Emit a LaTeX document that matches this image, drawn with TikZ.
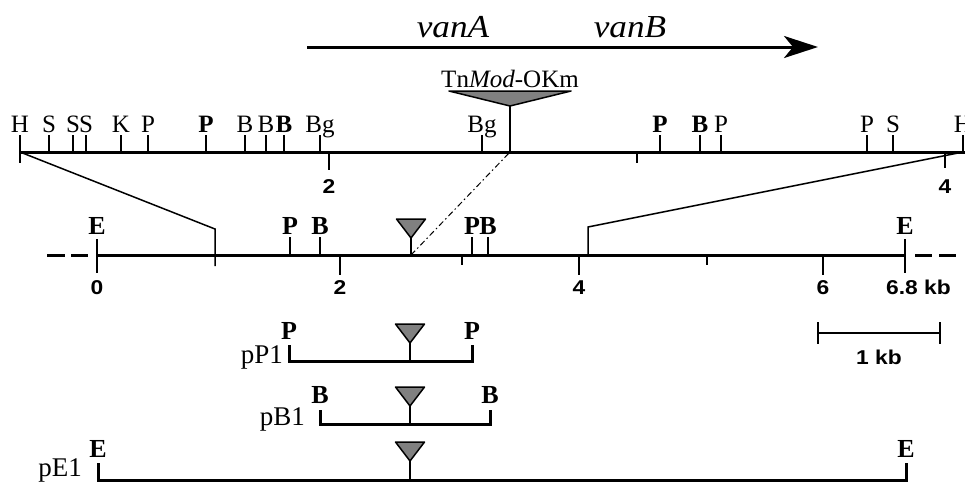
\documentclass[tikz,border=0pt]{standalone}
\usepackage{fontspec}
\setmainfont{Liberation Serif}
\setsansfont{Liberation Sans}
\usetikzlibrary{arrows.meta}

\tikzset{
  mapline/.style={line width=3pt},
  tickln/.style={line width=2pt},
  thinln/.style={line width=1.5pt},
  site/.style={anchor=base, inner sep=0pt, font=\fontsize{25}{25}\selectfont},
  bsite/.style={site, font=\fontsize{26}{26}\selectfont\bfseries},
  num/.style={anchor=base, inner sep=0pt, font=\fontsize{20}{20}\selectfont\sffamily\bfseries},
  clone/.style={anchor=base east, inner sep=0pt, font=\fontsize{27}{27}\selectfont},
  gene/.style={anchor=base, inner sep=0pt, font=\fontsize{32}{32}\selectfont\itshape},
  insfill/.style={fill=gray, draw=black, line width=1.5pt, line join=round},
}
\newcommand{\wide}[1]{\scalebox{1.14}[1]{#1}}
% small insertion marker: triangle on a stem standing on a line at (#1,#2)
\newcommand{\insmark}[3]{%
  \draw[insfill] (#1-14.5,#3) -- (#1+14.5,#3) -- (#1,#3+19) -- cycle;
  \draw[tickln] (#1,#3+19) -- (#1,#2);
}

\begin{document}
\begin{tikzpicture}[x=1pt, y=-1pt]
\useasboundingbox (0,0) rectangle (965,483);

% ---------- transcription arrow ----------
\coordinate (arrS) at (307,47);
\coordinate (arrE) at (818,47);
\draw[line width=3pt, -{Stealth[length=34pt, width=22pt, inset=9pt]}] (arrS) -- (arrE);
\node[gene] (vanA) at (453,37) {\scalebox{1.1}[1]{vanA}};
\node[gene] (vanB) at (630,37) {\scalebox{1.1}[1]{vanB}};

% ---------- upper restriction map ----------
\coordinate (topL) at (20,152);
\coordinate (topR) at (965,152);
\draw[mapline] (topL) -- (topR);
\foreach \x/\l in {20/H,49/S,73/S,86/S,121/K,148/P,245/B,266/B,320/Bg,482/Bg,721/P,867/P,893/S,963/H}{
  \draw[tickln] (\x,135) -- (\x,152);
  \node[site] at (\x,132) {\l};
}
\foreach \x/\l in {206/P,284/B,660/P,700/B}{
  \draw[tickln] (\x,135) -- (\x,152);
  \node[site, font=\fontsize{25}{25}\selectfont\bfseries] at (\x,132) {\l};
}
% scale ticks below the upper map
\draw[tickln] (20,152) -- (20,163);
\draw[tickln] (329,152) -- (329,170);
\draw[thinln] (637,152) -- (637,163);
\draw[tickln] (945,152) -- (945,168);
\node[num] (t2) at (329,193) {\wide{2}};
\node[num] (t4) at (945,193) {\wide{4}};

% TnMod-OKm insertion
\coordinate (tnIns) at (510,152);
\draw[insfill] (449,91) -- (571,91) -- (510,106) -- cycle;
\draw[tickln] (510,106) -- (tnIns);
\node[site] (tn) at (510,87) {Tn\textit{Mod}-OKm};

% ---------- middle map (E fragment, 6.8 kb) ----------
\coordinate (midL) at (97,255);
\coordinate (midR) at (905,255);
\draw[mapline] (midL) -- (midR);
\draw[mapline, dash pattern=on 18pt off 6pt] (47,255) -- (88,255);
\draw[mapline, dash pattern=on 17pt off 7pt] (915,255) -- (956,255);
\draw[tickln] (97,239) -- (97,273);
\draw[tickln] (905,239) -- (905,273);
\node[bsite] (mE1) at (97,234) {E};
\node[bsite] (mE2) at (905,234) {E};
\foreach \x/\l in {290/P,320/B,472/P,488/B}{
  \draw[tickln] (\x,237) -- (\x,255);
  \node[bsite] at (\x,234) {\l};
}
% kb ticks
\foreach \x in {340,579,823}{ \draw[tickln] (\x,255) -- (\x,275); }
\foreach \x in {462,707}{ \draw[thinln] (\x,255) -- (\x,265); }
\node[num] at (97,294) {\wide{0}};
\node[num] at (340,294) {\wide{2}};
\node[num] at (579,294) {\wide{4}};
\node[num] at (823,294) {\wide{6}};
\node[num, anchor=base west] at (886,294) {\wide{6.8 kb}};

% insertion on the middle map
\coordinate (midIns) at (411,255);
\insmark{411}{255}{219}

% zoom lines between the two maps
\coordinate (zL) at (215,229);
\coordinate (zR) at (588,227);
\draw[thinln] (topL) -- (zL) -- (215,266);
\draw[thinln] (963,152) -- (zR) -- (588,255);
\draw[line width=1pt, dash pattern=on 6pt off 3pt on 1.5pt off 3pt] (midIns) -- (tnIns);

% ---------- scale bar ----------
\coordinate (sbL) at (818,333);
\coordinate (sbR) at (940,333);
\draw[line width=2pt] (sbL) -- (sbR);
\draw[line width=2pt] (818,322) -- (818,344);
\draw[line width=2pt] (940,322) -- (940,344);
\node[num] (kb) at (879,364) {\wide{1 kb}};

% ---------- subclones ----------
% pP1
\draw[mapline] (289,345) -- (289,361) -- (472,361) -- (472,345);
\node[bsite] at (289,339) {P};
\node[bsite] at (472,339) {P};
\insmark{410}{361}{324}
\node[clone] (pP1) at (283,363) {pP1};
% pB1
\draw[mapline] (320,410) -- (320,424) -- (490,424) -- (490,410);
\node[bsite] at (320,403) {B};
\node[bsite] at (490,403) {B};
\insmark{410}{424}{387}
\node[clone] (pB1) at (305,425) {pB1};
% pE1
\draw[mapline] (98,463) -- (98,480) -- (906,480) -- (906,463);
\node[bsite] at (98,457) {E};
\node[bsite] at (906,457) {E};
\insmark{410}{480}{442}
\node[clone] (pE1) at (82,476) {pE1};
\end{tikzpicture}
\end{document}
